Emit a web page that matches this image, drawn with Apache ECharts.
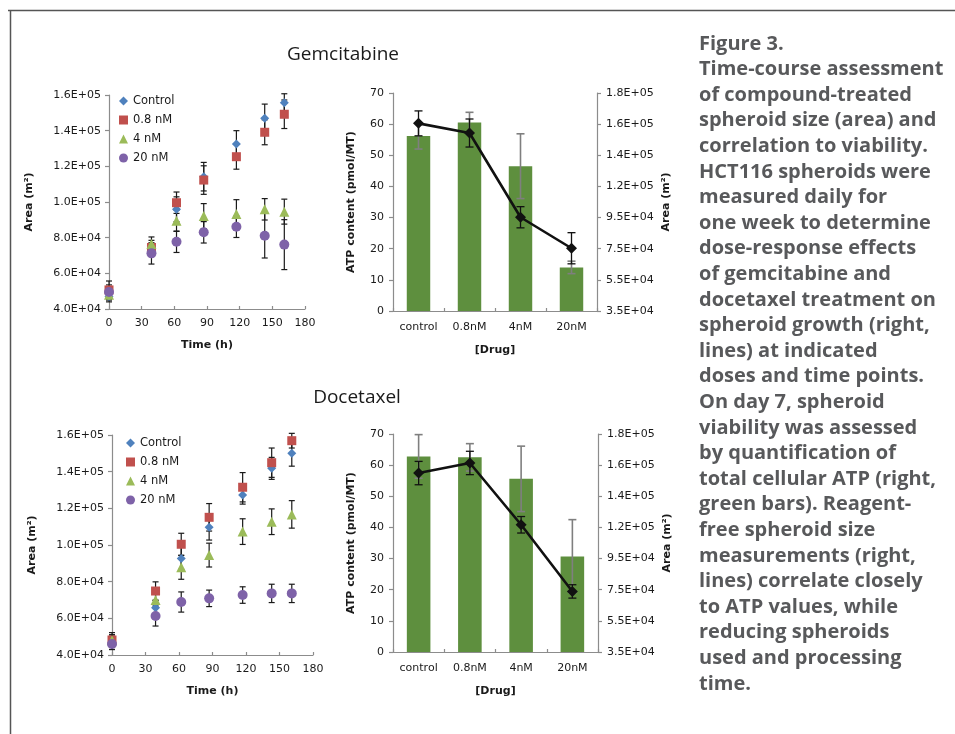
<!DOCTYPE html>
<html>
<head>
<meta charset="utf-8">
<script src="https://cdn.jsdelivr.net/npm/echarts@6/dist/echarts.min.js"></script>
<style>
html,body{margin:0;padding:0;background:#fff;}
#chart{width:955px;height:734px;}
</style>
</head>
<body>
<div id="chart"></div>
<script>
// ---------- data ----------
const times = [0, 39, 62, 87, 117, 143, 161];
const seriesNames = ['Control', '0.8 nM', '4 nM', '20 nM'];
const drugCats = ['control', '0.8nM', '4nM', '20nM'];

const gemControl = [47000, 73000, 95900, 114200, 132500, 146900, 155700];
const gemErrControl = [3000, 3000, 7000, 8000, 7500, 8000, 5000];
const gem08 = [50700, 74500, 99600, 112300, 125400, 139100, 149200];
const gemErr08 = [5000, 4000, 6000, 8000, 7000, 7000, 8000];
const gem4 = [48000, 76400, 89500, 92100, 93300, 95900, 94600];
const gemErr4 = [3000, 4000, 6000, 7000, 8000, 6000, 7000];
const gem20 = [49500, 71200, 77700, 83000, 86100, 81100, 76100];
const gemErr20 = [4000, 6000, 6000, 6000, 6000, 12500, 14000];

const docControl = [47000, 65800, 92700, 109700, 127300, 141800, 150000];
const docErrControl = [4000, 4000, 6000, 7000, 5000, 6000, 7000];
const doc08 = [48200, 74900, 100400, 115100, 131500, 144900, 156900];
const docErr08 = [4000, 5000, 6000, 7500, 8000, 8000, 4000];
const doc4 = [48000, 70000, 87800, 94500, 107300, 112700, 116700];
const docErr4 = [3000, 4000, 6500, 6500, 7000, 7000, 7500];
const doc20 = [46000, 61300, 68900, 70900, 72700, 73600, 73600];
const docErr20 = [3000, 5500, 5500, 4500, 4500, 5000, 5000];

const gemATP = [56.2, 60.5, 46.5, 14];
const gemATPErr = [4.2, 3.3, 10.4, 2];
const gemArea = [155500, 149300, 95200, 75300];
const gemAreaErr = [8000, 9000, 6800, 10000];
const docATP = [62.8, 62.5, 55.6, 30.7];
const docATPErr = [7, 4.4, 10.5, 11.8];
const docArea = [149900, 156400, 116700, 73900];
const docAreaErr = [7500, 7500, 5300, 4300];

const areaTickLabels = ['4.0E+04', '6.0E+04', '8.0E+04', '1.0E+05', '1.2E+05', '1.4E+05', '1.6E+05'];
const rightTickLabels = ['3.5E+04', '5.5E+04', '7.5E+04', '9.5E+04', '1.2E+05', '1.4E+05', '1.6E+05', '1.8E+05'];
const areaBase = 35000; // right axis origin
const captionLines = [
 'Figure 3.', 'Time-course assessment', 'of compound-treated', 'spheroid size (area) and',
 'correlation to viability.', 'HCT116 spheroids were', 'measured daily for',
 'one week to determine', 'dose-response effects', 'of gemcitabine and',
 'docetaxel treatment on', 'spheroid growth (right,', 'lines) at indicated',
 'doses and time points.', 'On day 7, spheroid', 'viability was assessed',
 'by quantification of', 'total cellular ATP (right,', 'green bars). Reagent-',
 'free spheroid size', 'measurements (right,', 'lines) correlate closely',
 'to ATP values, while', 'reducing spheroids', 'used and processing', 'time.'
];

// ---------- styles ----------
const colors = ['#4f81bd', '#c0504d', '#9bbb59', '#7e62a8'];
const symbols = ['diamond', 'rect', 'triangle', 'circle'];
const symSizes = [9, 9, 10, 10];
const FONT = 'DejaVu Sans';
const axisLineStyle = {color: '#8c8c8c', width: 1.2};
const labelStyle = {fontFamily: FONT, fontSize: 11, color: '#1a1a1a'};
const nameStyle = {fontFamily: FONT, fontSize: 11, fontWeight: 'bold', color: '#1a1a1a'};

function errRender(color, width, cap) {
  return function (params, api) {
    const x = api.value(0), lo = api.value(1), hi = api.value(2);
    const a = api.coord([x, lo]), b = api.coord([x, hi]);
    const st = {stroke: color, lineWidth: width};
    return {type: 'group', children: [
      {type: 'line', shape: {x1: a[0], y1: a[1], x2: b[0], y2: b[1]}, style: st},
      {type: 'line', shape: {x1: a[0] - cap, y1: a[1], x2: a[0] + cap, y2: a[1]}, style: st},
      {type: 'line', shape: {x1: b[0] - cap, y1: b[1], x2: b[0] + cap, y2: b[1]}, style: st}
    ]};
  };
}

const grids = [
  {left: 109, top: 95, width: 196, height: 214},
  {left: 393, top: 93, width: 204, height: 218},
  {left: 112, top: 435, width: 201, height: 220},
  {left: 393, top: 434, width: 205, height: 218}
];

const xAxes = [], yAxes = [], series = [], legends = [];

function scatterPanel(gi, vals, errs, legendPos) {
  xAxes.push({gridIndex: gi, type: 'value', min: 0, max: 180, interval: 30,
    name: 'Time (h)', nameLocation: 'middle', nameGap: 31, nameTextStyle: nameStyle,
    axisLine: {lineStyle: axisLineStyle}, axisTick: {show: true, length: 3, inside: true, lineStyle: axisLineStyle},
    axisLabel: Object.assign({margin: 9}, labelStyle), splitLine: {show: false}});
  const xi = xAxes.length - 1;
  yAxes.push({gridIndex: gi, type: 'value', min: 40000, max: 160000, interval: 20000,
    name: 'Area (m²)', nameLocation: 'middle', nameGap: 74, nameRotate: 90, nameTextStyle: nameStyle,
    axisLine: {show: true, lineStyle: axisLineStyle}, axisTick: {show: true, length: 4, lineStyle: axisLineStyle},
    axisLabel: Object.assign({margin: 8, formatter: (v) => areaTickLabels[Math.round((v - 40000) / 20000)]}, labelStyle),
    splitLine: {show: false}});
  const yi = yAxes.length - 1;
  const legendData = [];
  vals.forEach((arr, k) => {
    series.push({type: 'custom', xAxisIndex: xi, yAxisIndex: yi, silent: true, z: 2,
      renderItem: errRender('#1a1a1a', 1.2, 3),
      data: arr.map((v, i) => [times[i], v - errs[k][i], v + errs[k][i]])});
  });
  vals.forEach((arr, k) => {
    series.push({type: 'scatter', name: seriesNames[k], xAxisIndex: xi, yAxisIndex: yi, z: 3,
      symbol: symbols[k], symbolSize: symSizes[k], itemStyle: {color: colors[k], opacity: 1},
      data: arr.map((v, i) => [times[i], v])});
    legendData.push({name: seriesNames[k], icon: symbols[k]});
  });
  legends.push(Object.assign({orient: 'vertical', itemWidth: 9, itemHeight: 9, itemGap: 5,
    textStyle: {fontFamily: FONT, fontSize: 11.5, color: '#1a1a1a', padding: [0, 0, 0, 0], lineHeight: 14}, data: legendData,
    selectedMode: false, padding: 0}, legendPos));
}

function barPanel(gi, atp, atpErr, area, areaErr) {
  xAxes.push({gridIndex: gi, type: 'category', data: drugCats,
    name: '[Drug]', nameLocation: 'middle', nameGap: 34, nameTextStyle: nameStyle,
    axisLine: {lineStyle: axisLineStyle}, axisTick: {show: true, length: 3, inside: true, alignWithLabel: false, lineStyle: axisLineStyle},
    axisLabel: Object.assign({margin: 11}, labelStyle)});
  const xi = xAxes.length - 1;
  yAxes.push({gridIndex: gi, type: 'value', min: 0, max: 70, interval: 10,
    name: 'ATP content (pmol/MT)', nameLocation: 'middle', nameGap: 36, nameRotate: 90, nameTextStyle: nameStyle,
    axisLine: {show: true, lineStyle: axisLineStyle}, axisTick: {show: true, length: 4, lineStyle: axisLineStyle},
    axisLabel: Object.assign({margin: 9}, labelStyle), splitLine: {show: false}});
  const yl = yAxes.length - 1;
  yAxes.push({gridIndex: gi, type: 'value', position: 'right', min: 0, max: 140000, interval: 20000,
    name: 'Area (m²)', nameLocation: 'middle', nameGap: 64, nameRotate: 90, nameTextStyle: nameStyle,
    axisLine: {show: true, lineStyle: axisLineStyle}, axisTick: {show: true, length: 4, lineStyle: axisLineStyle},
    axisLabel: Object.assign({margin: 9, formatter: (v) => rightTickLabels[Math.round(v / 20000)]}, labelStyle),
    splitLine: {show: false}});
  const yr = yAxes.length - 1;
  series.push({type: 'bar', xAxisIndex: xi, yAxisIndex: yl, barWidth: '46%', z: 1,
    itemStyle: {color: '#5e8f3e'}, data: atp});
  series.push({type: 'custom', xAxisIndex: xi, yAxisIndex: yl, silent: true, z: 2,
    renderItem: errRender('#7f7f7f', 1.6, 4),
    data: atp.map((v, i) => [i, v - atpErr[i], v + atpErr[i]])});
  series.push({type: 'custom', xAxisIndex: xi, yAxisIndex: yr, silent: true, z: 3,
    renderItem: errRender('#111', 1.3, 4),
    data: area.map((v, i) => [i, v - areaErr[i] - areaBase, v + areaErr[i] - areaBase])});
  series.push({type: 'line', xAxisIndex: xi, yAxisIndex: yr, z: 4,
    symbol: 'diamond', symbolSize: 11, itemStyle: {color: '#111'},
    lineStyle: {color: '#111', width: 2.6},
    data: area.map((v) => v - areaBase)});
}

scatterPanel(0, [gemControl, gem08, gem4, gem20], [gemErrControl, gemErr08, gemErr4, gemErr20], {left: 119, top: 94});
barPanel(1, gemATP, gemATPErr, gemArea, gemAreaErr);
scatterPanel(2, [docControl, doc08, doc4, doc20], [docErrControl, docErr08, docErr4, docErr20], {left: 126, top: 436});
barPanel(3, docATP, docATPErr, docArea, docAreaErr);

const chart = echarts.init(document.getElementById('chart'), null, {renderer: 'canvas'});
chart.setOption({
  animation: false,
  backgroundColor: '#fff',
  title: [
    {text: 'Gemcitabine', left: 338, top: 40, textAlign: 'center',
      textStyle: {fontFamily: 'Open Sans', fontSize: 19, fontWeight: 'normal', color: '#1a1a1a'}},
    {text: 'Docetaxel', left: 352, top: 383, textAlign: 'center',
      textStyle: {fontFamily: 'Open Sans', fontSize: 19, fontWeight: 'normal', color: '#1a1a1a'}}
  ],
  grid: grids,
  xAxis: xAxes,
  yAxis: yAxes,
  legend: legends,
  series: series,
  graphic: [
    {type: 'line', shape: {x1: 8, y1: 10.5, x2: 955, y2: 10.5}, style: {stroke: '#555', lineWidth: 1.5}},
    {type: 'line', shape: {x1: 10.5, y1: 10, x2: 10.5, y2: 734}, style: {stroke: '#555', lineWidth: 1.5}},
    {type: 'text', left: 699, top: 31, style: {text: captionLines.join('\n'), fontFamily: 'Open Sans',
      fontSize: 20, fontWeight: 'bold', lineHeight: 25.6, fill: '#58595b'}}
  ]
});
</script>
</body>
</html>
